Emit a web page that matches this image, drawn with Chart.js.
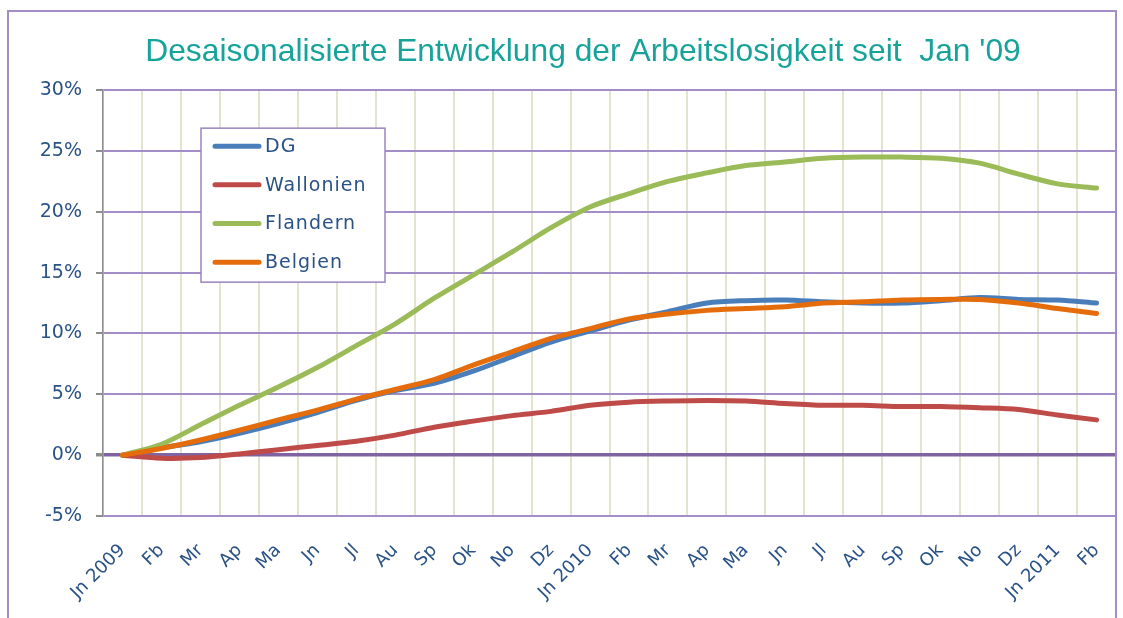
<!DOCTYPE html>
<html>
<head>
<meta charset="utf-8">
<script src="https://cdn.jsdelivr.net/npm/chart.js@4/dist/chart.umd.min.js"></script>
<style>
  html, body { margin: 0; padding: 0; background: #fff; }
  #wrap { position: relative; width: 1123px; height: 618px; }
</style>
</head>
<body>
<div id="wrap"><canvas id="chart" width="1123" height="618"></canvas></div>
<script>
// month labels along the x axis
const months = ["Jn 2009", "Fb", "Mr", "Ap", "Ma", "Jn", "Jl", "Au", "Sp", "Ok", "No", "Dz",
  "Jn 2010", "Fb", "Mr", "Ap", "Ma", "Jn", "Jl", "Au", "Sp", "Ok", "No", "Dz", "Jn 2011", "Fb"];

// values in % (change since Jan '09)
const dg = [0, 0.6, 1.1, 1.8, 2.6, 3.5, 4.5, 5.3, 5.9, 6.9, 8.1, 9.3, 10.2, 11.1, 11.8, 12.5,
  12.7, 12.75, 12.6, 12.5, 12.5, 12.7, 12.95, 12.8, 12.75, 12.5];
const wallonien = [0, -0.25, -0.2, 0.1, 0.45, 0.8, 1.15, 1.65, 2.3, 2.8, 3.25, 3.6, 4.1, 4.35,
  4.45, 4.5, 4.45, 4.25, 4.1, 4.1, 4.0, 4.0, 3.9, 3.75, 3.3, 2.9];
const flandern = [0, 0.9, 2.5, 4.1, 5.6, 7.2, 9.0, 10.8, 12.9, 14.8, 16.7, 18.7, 20.4, 21.5,
  22.5, 23.2, 23.8, 24.1, 24.4, 24.5, 24.5, 24.4, 24.0, 23.1, 22.3, 21.95];
const belgien = [0, 0.55, 1.25, 2.05, 2.9, 3.7, 4.6, 5.4, 6.2, 7.4, 8.5, 9.6, 10.4, 11.2, 11.6,
  11.9, 12.05, 12.2, 12.5, 12.6, 12.75, 12.8, 12.8, 12.5, 12.05, 11.65];

const yTicks = [-5, 0, 5, 10, 15, 20, 25, 30];

const tickColor = "#2A5286";
const purple = "#A38DC6";

// frame around the whole chart + legend box inside the plot
const framePlugin = {
  id: "frame",
  afterLayout(chart) {
    // title sits a bit right of the canvas centre
    if (chart.titleBlock) {
      chart.titleBlock.left += 25;
      chart.titleBlock.right += 25;
    }
  },
  beforeDraw(chart) {
    const ctx = chart.ctx;
    ctx.save();
    ctx.fillStyle = "#fff";
    ctx.fillRect(0, 0, chart.width, chart.height);
    ctx.restore();
  },
  afterDraw(chart) {
    const ctx = chart.ctx;
    const area = chart.chartArea;
    ctx.save();
    ctx.strokeStyle = purple;
    ctx.lineWidth = 2;
    ctx.strokeRect(8, 11, area.right - 8, 720);

    // legend box
    const bx = area.left + 98, by = area.top + 38, bw = 184, bh = 154;
    ctx.fillStyle = "#fff";
    ctx.fillRect(bx, by, bw, bh);
    ctx.strokeStyle = "#9B84C0";
    ctx.lineWidth = 1.5;
    ctx.strokeRect(bx, by, bw, bh);
    ctx.font = "19px 'DejaVu Sans'";
    ctx.letterSpacing = "1px";
    ctx.textBaseline = "middle";
    chart.data.datasets.forEach((ds, i) => {
      const y = by + 18 + i * 38.7;
      ctx.strokeStyle = ds.borderColor;
      ctx.lineWidth = 5;
      ctx.lineCap = "round";
      ctx.beginPath();
      ctx.moveTo(bx + 14, y);
      ctx.lineTo(bx + 58, y);
      ctx.stroke();
      ctx.fillStyle = tickColor;
      ctx.fillText(ds.label, bx + 64, y + 1);
    });
    ctx.restore();
  }
};

function series(label, data, color, order) {
  return {
    label: label,
    data: data,
    borderColor: color,
    backgroundColor: color,
    borderWidth: 5,
    pointRadius: 0,
    tension: 0.3,
    borderCapStyle: "round",
    order: order
  };
}

new Chart(document.getElementById("chart"), {
  type: "line",
  data: {
    labels: months,
    datasets: [
      series("DG", dg, "#4A7EBB", 4),
      series("Wallonien", wallonien, "#BE4B48", 3),
      series("Flandern", flandern, "#9BBB59", 2),
      series("Belgien", belgien, "#E46C0A", 1)
    ]
  },
  options: {
    responsive: false,
    animation: false,
    layout: { padding: { left: 0, right: 7, top: 0, bottom: 0 } },
    plugins: {
      legend: { display: false },
      tooltip: { enabled: false },
      title: {
        display: true,
        text: "Desaisonalisierte Entwicklung der Arbeitslosigkeit seit  Jan '09",
        color: "#18A39A",
        font: { family: "'Liberation Sans', Arial, sans-serif", size: 31.8, weight: "normal" },
        padding: { top: 33, bottom: 19 }
      }
    },
    scales: {
      x: {
        offset: true,
        grid: { offset: true, color: "#E4E3CF", lineWidth: 2, drawTicks: false },
        border: { display: false },
        ticks: {
          color: tickColor,
          font: { family: "'DejaVu Sans', sans-serif", size: 18 },
          maxRotation: 45,
          minRotation: 45,
          autoSkip: false,
          padding: 24
        },
        afterFit(scale) {
          scale.height = 102;
          scale.paddingLeft = 0;
          scale.paddingRight = 0;
        }
      },
      y: {
        min: -5,
        max: 30,
        afterBuildTicks(scale) { scale.ticks = yTicks.map(v => ({ value: v })); },
        grid: {
          color: ctx => ctx.tick && ctx.tick.value === 0 ? "#8064A2" : purple,
          lineWidth: ctx => ctx.tick && ctx.tick.value === 0 ? 3.5 : 2,
          tickColor: "#8C8C8C",
          tickLength: 7
        },
        border: { color: "#8C8C8C", width: 1.5 },
        ticks: {
          color: tickColor,
          font: { family: "'DejaVu Sans', sans-serif", size: 19 },
          padding: 14,
          callback: v => v + "%"
        },
        afterFit(scale) { scale.width = 103; }
      }
    }
  },
  plugins: [framePlugin]
});
</script>
</body>
</html>
